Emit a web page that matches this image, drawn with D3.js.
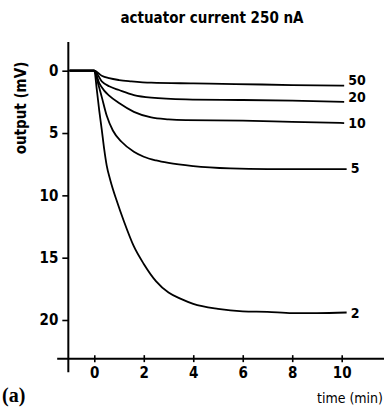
<!DOCTYPE html>
<html><head><meta charset="utf-8">
<script src="https://cdn.jsdelivr.net/npm/d3@7/dist/d3.min.js"></script>
<style>
html,body{margin:0;padding:0;background:#fff;}
svg{display:block;}
text{font-family:"DejaVu Sans Condensed","Liberation Sans Narrow",sans-serif;fill:#000;}
</style></head>
<body>
<svg id="c" width="384" height="408"></svg>
<script>
const title = "actuator current  250 nA";
const yLabel = "output (mV)";
const xLabel = "time (min)";
const panelLabel = "(a)";
const xTicks = [0, 2, 4, 6, 8, 10];
const yTicks = [0, 5, 10, 15, 20];
const seriesNames = ["50", "20", "10", "5", "2"];
const t50 = [-1, 0, 0.3, 0.6, 1, 1.5, 2.3, 4, 5.7, 8, 10.1];
const v50 = [0, 0, 0.4, 0.6, 0.75, 0.85, 0.96, 1.02, 1.07, 1.15, 1.2];
const t20 = [-1, 0, 0.3, 0.6, 1, 1.6, 2.3, 3.7, 6, 8, 10.1];
const v20 = [0, 0, 0.85, 1.25, 1.55, 1.95, 2.16, 2.3, 2.35, 2.4, 2.5];
const t10 = [-1, 0, 0.2, 0.4, 0.6, 1, 1.6, 2.3, 3, 3.7, 6, 8, 10.1];
const v10 = [0, 0, 1.0, 1.6, 2.0, 2.6, 3.3, 3.75, 3.9, 3.96, 4.0, 4.1, 4.2];
const t5 = [-1, 0, 0.15, 0.3, 0.5, 0.75, 1.1, 1.6, 2, 2.5, 3, 4, 5.5, 7, 10.2];
const v5 = [0, 0, 1.0, 2.1, 3.6, 4.8, 5.7, 6.5, 6.9, 7.2, 7.4, 7.65, 7.84, 7.9, 7.9];
const t2 = [-1, 0, 0.1, 0.2, 0.3, 0.4, 0.5, 0.65, 0.9, 1.2, 1.6, 2, 2.5, 3, 3.5, 4, 5, 6, 7, 8, 9, 10.2];
const v2 = [0, 0, 1.5, 3.2, 4.7, 6.3, 7.6, 8.8, 10.4, 12.1, 14.1, 15.5, 16.9, 17.8, 18.3, 18.7, 19.1, 19.3, 19.35, 19.45, 19.45, 19.4];

const seriesT = [t50, t20, t10, t5, t2];
const seriesV = [v50, v20, v10, v5, v2];
const labelDy = [-5.5, -4.5, 0, -1, 0];

const svg = d3.select("#c");
const x = d3.scaleLinear().domain([0, 10]).range([94.3, 341.7]);
const y = d3.scaleLinear().domain([0, 20]).range([70.7, 320]);

// title
svg.append("text").attr("x", 212).attr("y", 23).attr("text-anchor", "middle")
  .attr("font-size", 15).attr("font-weight", "bold").text(title);

// y axis line
svg.append("line").attr("x1", x(-1.05)).attr("x2", x(-1.05))
  .attr("y1", y(-2.3)).attr("y2", y(24.2)).attr("stroke", "#000").attr("stroke-width", 2);
// x axis line
svg.append("line").attr("x1", x(-1.5)).attr("x2", 384)
  .attr("y1", y(23.1)).attr("y2", y(23.1)).attr("stroke", "#000").attr("stroke-width", 2);

// y ticks
const gy = svg.append("g").attr("transform", `translate(${x(-1.05)},0)`)
  .call(d3.axisLeft(y).tickValues(yTicks).tickSize(6).tickPadding(4));
gy.select(".domain").remove();
gy.selectAll(".tick line").attr("stroke", "#000").attr("stroke-width", 1.6);
gy.selectAll(".tick text").attr("font-size", 15).attr("font-family", null).attr("font-weight", "bold");

// x ticks
const gx = svg.append("g").attr("transform", `translate(0,${y(23.1)})`)
  .call(d3.axisBottom(x).tickValues(xTicks).tickSize(4).tickPadding(5));
gx.select(".domain").remove();
gx.selectAll(".tick line").attr("y1", -3.5).attr("y2", 3.5).attr("stroke", "#000").attr("stroke-width", 1.6);
gx.selectAll(".tick text").attr("font-size", 15).attr("font-family", null).attr("font-weight", "bold");

// y label
svg.append("text").attr("transform", "translate(26,108) rotate(-90)").attr("text-anchor", "middle")
  .attr("font-size", 15).attr("font-weight", "bold").text(yLabel);
// x label
svg.append("text").attr("x", 383).attr("y", 403).attr("text-anchor", "end")
  .attr("font-size", 14).text(xLabel);
// panel label
svg.append("text").attr("x", 2).attr("y", 402)
  .style("font-family", "'Liberation Serif','DejaVu Serif',serif")
  .attr("font-size", 20).attr("font-weight", "bold").text(panelLabel);

// curves
const line = d3.line().x(d => x(d[0])).y(d => y(d[1])).curve(d3.curveMonotoneX);
seriesNames.forEach((name, i) => {
  const pts = seriesT[i].map((t, j) => [t, seriesV[i][j]]);
  svg.append("path").datum(pts).attr("d", line)
    .attr("fill", "none").attr("stroke", "#000").attr("stroke-width", 1.8);
  const last = pts[pts.length - 1];
  svg.append("text").attr("x", x(last[0]) + 4).attr("y", y(last[1]) + labelDy[i])
    .attr("dy", "0.36em").attr("font-size", 14).attr("font-weight", "bold").text(name);
});
</script>
</body></html>
